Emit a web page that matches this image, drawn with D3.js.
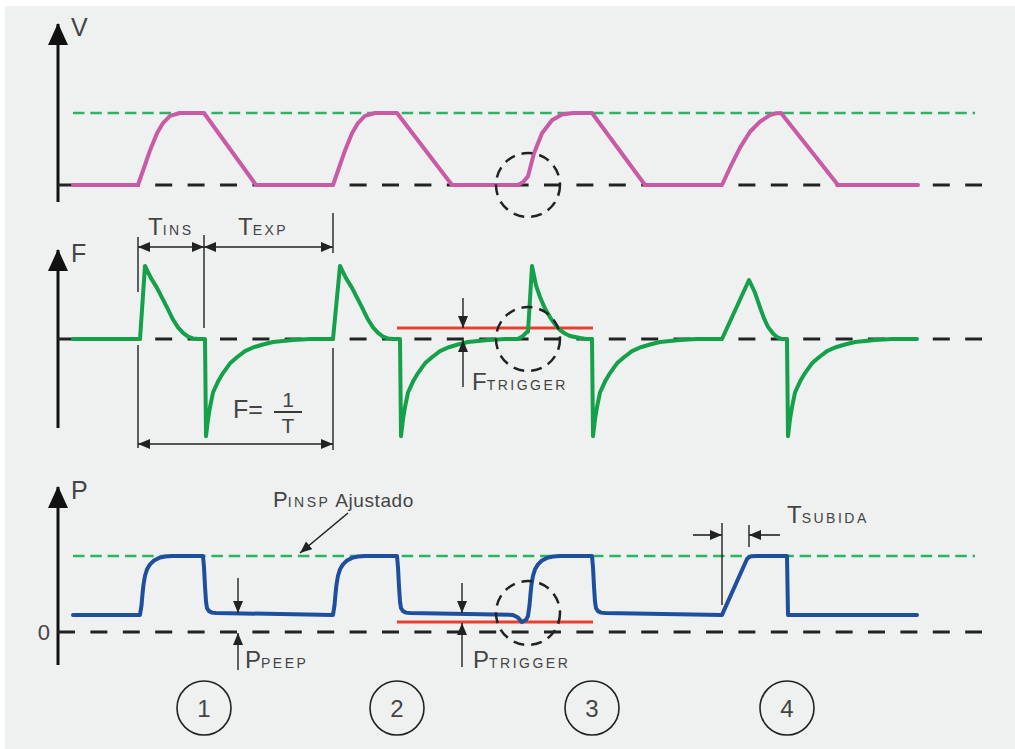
<!DOCTYPE html>
<html lang="es">
<head>
<meta charset="utf-8">
<title>Curvas del ventilador</title>
<script src="https://cdn.jsdelivr.net/npm/d3@7"></script>
<style>
  body { margin: 0; background: #fff; }
  text { font-family: "Liberation Sans", Arial, sans-serif; fill: #444; }
</style>
</head>
<body>
<div id="chart"></div>
<script>
// time in seconds
var volume = [ // litres
  [0.13,0],[0.78,0],[0.84,0.12],[0.90,0.24],[0.97,0.36],[1.03,0.43],[1.10,0.48],[1.20,0.50],[1.44,0.50],[1.96,0],
  [2.73,0],[2.79,0.12],[2.85,0.24],[2.92,0.36],[2.98,0.43],[3.05,0.48],[3.15,0.50],[3.37,0.50],[3.92,0],
  [4.58,0],[4.63,0.02],[4.68,0.06],[4.74,0.22],[4.82,0.36],[4.92,0.45],[5.02,0.49],[5.13,0.50],[5.32,0.50],[5.85,0],
  [6.62,0],[6.70,0.12],[6.80,0.26],[6.90,0.37],[7.00,0.44],[7.10,0.485],[7.16,0.498],[7.21,0.50],[7.78,0],[8.58,0]
];
var flow = [ // L/min
  [0.13,0],[0.80,0],[0.85,60],[0.88,55],[0.91,50],[0.97,42],[1.02,34],[1.07,26],[1.13,16],[1.18,9.5],[1.23,5],[1.28,2],[1.33,0.5],[1.38,0],
  [1.45,0],[1.46,-80],[1.48,-66],[1.50,-56],[1.53,-44],[1.58,-35],[1.63,-28],[1.70,-20],[1.77,-15],[1.85,-10],[1.93,-7],[2.03,-4.5],[2.13,-2.5],[2.33,-0.8],[2.50,0],
  [2.73,0],[2.80,60],[2.83,55],[2.86,50],[2.92,42],[2.97,34],[3.02,26],[3.08,16],[3.13,9.5],[3.18,5],[3.23,2],[3.28,0.5],[3.33,0],
  [3.40,0],[3.41,-80],[3.43,-66],[3.45,-56],[3.48,-44],[3.53,-35],[3.58,-28],[3.65,-20],[3.72,-15],[3.80,-10],[3.88,-7],[3.98,-4.5],[4.08,-2.5],[4.28,-0.8],[4.45,0],
  [4.58,0],[4.63,2.5],[4.67,5.8],[4.68,6],[4.72,60],[4.76,44],[4.80,34.5],[4.85,25],[4.90,18],[4.95,12],[5.00,7.4],[5.05,4.5],[5.10,2.5],[5.20,0.8],[5.26,0],
  [5.32,0],[5.33,-80],[5.35,-66],[5.37,-56],[5.40,-44],[5.45,-35],[5.50,-28],[5.57,-20],[5.64,-15],[5.72,-10],[5.80,-7],[5.90,-4.5],[6.00,-2.5],[6.20,-0.8],[6.37,0],
  [6.62,0],[6.89,48.5],[6.95,38],[7.00,26],[7.04,17],[7.08,10],[7.13,4.5],[7.17,1.6],[7.22,0],
  [7.27,0],[7.28,-80],[7.30,-66],[7.32,-56],[7.35,-44],[7.40,-35],[7.45,-28],[7.52,-20],[7.59,-15],[7.67,-10],[7.75,-7],[7.85,-4.5],[7.95,-2.5],[8.15,-0.8],[8.32,0],[8.57,0]
];
var pressure = [ // cmH2O
  [0.13,4.5],[0.80,4.5],[0.815,7],[0.825,10],[0.835,12.5],[0.85,14.8],[0.87,16.5],[0.90,17.8],[0.94,18.8],[0.99,19.5],[1.05,19.85],[1.12,20],[1.43,20],
  [1.44,17],[1.45,12],[1.46,8],[1.47,6.3],[1.49,5.5],[1.52,5.1],[1.56,5.0],[2.73,4.5],
  [2.745,7],[2.755,10],[2.765,12.5],[2.78,14.8],[2.80,16.5],[2.83,17.8],[2.87,18.8],[2.92,19.5],[2.98,19.85],[3.05,20],[3.37,20],
  [3.38,17],[3.39,12],[3.40,8],[3.41,6.3],[3.43,5.5],[3.46,5.1],[3.50,5.0],[4.53,4.5],[4.58,3.8],[4.62,2.6],[4.66,3.2],[4.68,4.2],
  [4.695,7],[4.705,10],[4.715,12.5],[4.73,14.8],[4.75,16.5],[4.78,17.8],[4.82,18.8],[4.87,19.5],[4.93,19.85],[5.00,20],[5.32,20],
  [5.33,17],[5.34,12],[5.35,8],[5.36,6.3],[5.38,5.5],[5.41,5.1],[5.45,5.0],[6.62,4.5],
  [6.87,19.2],[6.89,19.7],[6.92,19.95],[6.97,20],[7.27,20],[7.28,4.5],[8.57,4.5]
];
var volumeSet = 0.5, pressureSet = 20;
var flowTrigger = 9, pressureTrigger = 2.6, peep = 5;
var triggerSpan = [3.37, 5.33];
var triggerTime = 4.68;
var tIns = [0.78, 1.44], tExp = [1.44, 2.73];
var tSubida = [6.62, 6.89];
var breathEnd = [1.44, 3.37, 5.32, 7.27];
var breathNames = ["1", "2", "3", "4"];

var W = 1015, H = 749;
var axisX = 58;
var x = d3.scaleLinear().domain([0, 9.2]).range([60, 980]);
var yV = d3.scaleLinear().domain([0, 0.5]).range([185, 113]);
var yF = d3.scaleLinear().domain([0, 60]).range([339, 266]);
var yP = d3.scaleLinear().domain([0, 20]).range([632, 556]);

var svg = d3.select("#chart").append("svg")
  .attr("width", W).attr("height", H);

svg.append("rect").attr("x", 5).attr("y", 6)
  .attr("width", W - 5).attr("height", H - 6).attr("fill", "#eff1f1");

var defs = svg.append("defs");
defs.append("marker").attr("id", "head")
  .attr("viewBox", "0 0 12 10").attr("refX", 12).attr("refY", 5)
  .attr("markerWidth", 12).attr("markerHeight", 10)
  .attr("markerUnits", "userSpaceOnUse").attr("orient", "auto-start-reverse")
  .append("path").attr("d", "M0,0L12,5L0,10Z").attr("fill", "#222");
defs.append("marker").attr("id", "axisHead")
  .attr("viewBox", "0 0 22 20").attr("refX", 21).attr("refY", 10)
  .attr("markerWidth", 22).attr("markerHeight", 20)
  .attr("markerUnits", "userSpaceOnUse").attr("orient", "auto")
  .append("path").attr("d", "M0,0L22,10L0,20Z").attr("fill", "#111");

// axes: arrow, name, zero line, set line
var panels = [
  {name: "V", y: yV, top: 24, bottom: 202, set: volumeSet},
  {name: "F", y: yF, top: 250, bottom: 428, set: null},
  {name: "P", y: yP, top: 487, bottom: 665, set: pressureSet}
];
panels.forEach(function(p) {
  svg.append("line")
    .attr("x1", axisX).attr("x2", axisX).attr("y1", p.bottom).attr("y2", p.top)
    .attr("stroke", "#111").attr("stroke-width", 3).attr("marker-end", "url(#axisHead)");
  svg.append("text").attr("x", axisX + 13).attr("y", p.top + 12)
    .attr("font-size", 25).text(p.name);
  svg.append("line")
    .attr("x1", axisX).attr("x2", 982).attr("y1", p.y(0)).attr("y2", p.y(0))
    .attr("stroke", "#222").attr("stroke-width", 3).attr("stroke-dasharray", "17 15.4");
  if (p.set !== null) {
    svg.append("line")
      .attr("x1", 73).attr("x2", 975).attr("y1", p.y(p.set)).attr("y2", p.y(p.set))
      .attr("stroke", "#2bb463").attr("stroke-width", 2.5).attr("stroke-dasharray", "11.5 5.8");
  }
});

svg.append("g")
  .attr("transform", "translate(" + axisX + ",0)")
  .call(d3.axisLeft(yP).tickValues([0]).tickSize(0).tickPadding(8))
  .call(function(g) {
    g.select(".domain").remove();
    g.selectAll("text").attr("font-size", 22).attr("fill", "#444")
      .attr("font-family", "'Liberation Sans', Arial, sans-serif");
  });

// trigger levels
[[yF, flowTrigger], [yP, pressureTrigger]].forEach(function(d) {
  svg.append("line")
    .attr("x1", x(triggerSpan[0])).attr("x2", x(triggerSpan[1]))
    .attr("y1", d[0](d[1])).attr("y2", d[0](d[1]))
    .attr("stroke", "#e8402f").attr("stroke-width", 3);
});

// waveforms
var series = [
  {data: volume, y: yV, color: "#c95aa6"},
  {data: flow, y: yF, color: "#14a149"},
  {data: pressure, y: yP, color: "#1d4f9d"}
];
series.forEach(function(s) {
  var line = d3.line().x(function(d) { return x(d[0]); }).y(function(d) { return s.y(d[1]); });
  svg.append("path").datum(s.data)
    .attr("d", line)
    .attr("fill", "none").attr("stroke", s.color).attr("stroke-width", 4)
    .attr("stroke-linejoin", "round").attr("stroke-linecap", "round");
});

// trigger circles
[yV(0), yF(0), yP(peep)].forEach(function(cy) {
  svg.append("circle").attr("cx", x(triggerTime)).attr("cy", cy).attr("r", 32)
    .attr("fill", "none").attr("stroke", "#222").attr("stroke-width", 2.5)
    .attr("stroke-dasharray", "11 7");
});

function seg(x1, y1, x2, y2, start, end, w) {
  var l = svg.append("line").attr("x1", x1).attr("y1", y1).attr("x2", x2).attr("y2", y2)
    .attr("stroke", "#222").attr("stroke-width", w || 1.4);
  if (start) l.attr("marker-start", "url(#head)");
  if (end) l.attr("marker-end", "url(#head)");
  return l;
}

function label(xp, yp, big, small, rest, bigSize) {
  var t = svg.append("text").attr("x", xp).attr("y", yp);
  t.append("tspan").attr("font-size", bigSize || 24).text(big);
  if (small) t.append("tspan").attr("font-size", 14).attr("letter-spacing", 2.5).text(small);
  if (rest) t.append("tspan").attr("font-size", 19).attr("letter-spacing", 0.6).text(rest);
  return t;
}

// T ins / T exp
var xa = x(tIns[0]), xb = x(tIns[1]), xc = x(tExp[1]);
seg(xa, 237, xa, 292);
seg(xa, 345, xa, 448);
seg(xb, 235, xb, 328);
seg(xc, 213, xc, 253);
seg(xc, 348, xc, 450);
seg(xa, 247, xb, 247, true, true, 1.6);
seg(xb, 247, xc, 247, true, true, 1.6);
seg(xa, 444, xc, 444, true, true, 1.6);
label(xa + 10, 235, "T", "INS");
label(xb + 34, 235, "T", "EXP");

// F = 1/T
svg.append("text").attr("x", 233).attr("y", 418).attr("font-size", 25).text("F=");
svg.append("text").attr("x", 288).attr("y", 407).attr("font-size", 21)
  .attr("text-anchor", "middle").text("1");
seg(274, 412, 302, 412, false, false, 1.8);
svg.append("text").attr("x", 288).attr("y", 433).attr("font-size", 21)
  .attr("text-anchor", "middle").text("T");

// F trigger
var xt = 463;
seg(xt, 298, xt, yF(flowTrigger), false, true);
seg(xt, 387, xt, yF(0) + 1, false, true);
label(xt + 9, 390, "F", "TRIGGER");

// P insp ajustado
label(273, 507, "P", "INSP", " Ajustado", 22);
seg(348, 513, 300, 553, false, true, 1.6);

// P peep
var xpp = 238;
seg(xpp, 578, xpp, yP(peep), false, true);
seg(xpp, 670, xpp, yP(0) + 1, false, true);
label(xpp + 7, 668, "P", "PEEP");

// P trigger
seg(xt - 1, 583, xt - 1, yP(peep), false, true);
seg(xt - 1, 667, xt - 1, yP(pressureTrigger) + 1, false, true);
label(xt + 10, 668, "P", "TRIGGER");

// T subida
var xs0 = x(tSubida[0]), xs1 = x(tSubida[1]);
seg(xs0, 523, xs0, 605);
seg(xs1, 525, xs1, 547);
seg(xs0 - 29, 535, xs0, 535, false, true, 1.6);
seg(xs1 + 31, 535, xs1, 535, false, true, 1.6);
label(787, 523, "T", "SUBIDA");

// breath numbers
var nums = svg.selectAll(".num").data(breathEnd).enter().append("g").attr("class", "num");
nums.append("circle")
  .attr("cx", function(d) { return x(d); }).attr("cy", 708).attr("r", 27)
  .attr("fill", "none").attr("stroke", "#222").attr("stroke-width", 1.6);
nums.append("text")
  .attr("x", function(d) { return x(d); }).attr("y", 717)
  .attr("text-anchor", "middle").attr("font-size", 24)
  .text(function(d, i) { return breathNames[i]; });
</script>
</body>
</html>
